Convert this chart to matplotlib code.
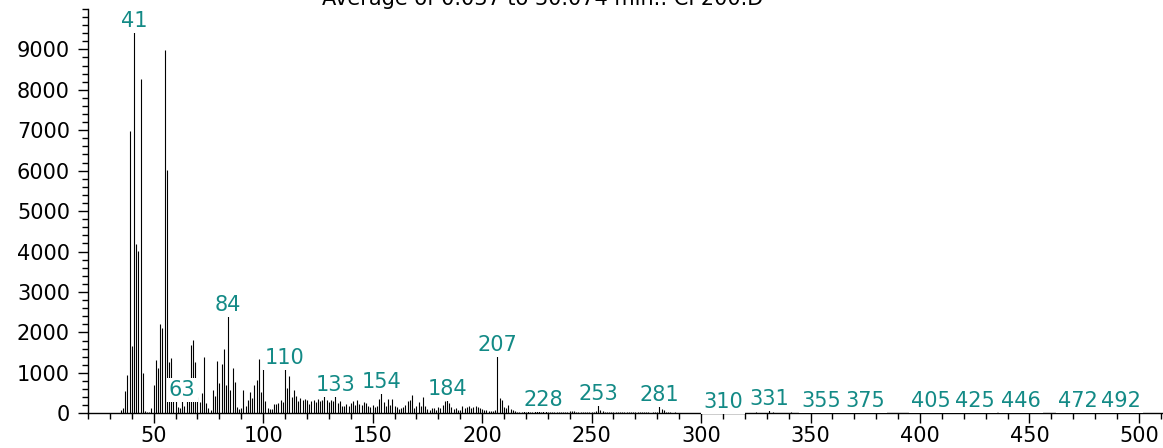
import matplotlib
matplotlib.use("Agg")
import matplotlib.pyplot as plt
from matplotlib.ticker import MultipleLocator

plt.rcParams['font.family'] = ['DejaVu Sans']

title = "Average of 0.037 to 30.074 min.: CP200.D"

# m/z 35..217, one value per mass
mz_low = list(range(35, 218))
int_low = [80, 120, 560, 940, 6980, 1660, 9420, 4190, 4020, 8275,
           990, 60, 40, 30, 120, 700, 1320, 1110, 2210, 2110,
           8980, 6020, 1260, 1360, 320, 300, 150, 120, 300, 180,
           450, 350, 1690, 1810, 1280, 400, 280, 500, 1400, 250,
           120, 80, 580, 420, 1300, 740, 1220, 1580, 700, 2410,
           580, 1110, 780, 150, 100, 120, 575, 180, 320, 535,
           380, 700, 825, 1335, 520, 1088, 300, 120, 100, 110,
           230, 220, 260, 330, 280, 1088, 625, 922, 400, 575,
           430, 300, 380, 330, 350, 340, 240, 310, 330, 270,
           360, 300, 320, 430, 330, 290, 330, 300, 430, 260,
           300, 190, 170, 230, 170, 250, 300, 210, 330, 240,
           200, 280, 250, 180, 150, 200, 160, 180, 350, 495,
           280, 190, 350, 210, 350, 170, 160, 100, 120, 150,
           200, 310, 330, 445, 130, 190, 280, 170, 400, 170,
           100, 90, 120, 130, 90, 150, 130, 200, 300, 320,
           250, 150, 100, 120, 80, 90, 190, 120, 150, 170,
           130, 160, 190, 160, 120, 100, 90, 70, 60, 60,
           50, 80, 1417, 385, 330, 160, 130, 205, 100, 70,
           50, 40, 40]

# m/z 218..300
mz_mid = list(range(218, 301))
int_mid = [40, 45, 35, 50, 30, 40, 55, 45, 60, 40,
           50, 45, 35, 40, 30, 35, 30, 25, 30, 40,
           30, 35, 45, 55, 50, 30, 25, 30, 25, 20,
           25, 30, 35, 40, 50, 205, 80, 65, 40, 35,
           30, 25, 30, 25, 20, 25, 30, 25, 40, 35,
           25, 30, 25, 20, 25, 20, 30, 25, 20, 15,
           20, 25, 40, 180, 110, 70, 40, 25, 20, 15,
           20, 15, 10, 15, 10, 15, 12, 10, 12, 8,
           10, 8, 10]

# sparse tail above 300
mz_tail = [303, 307, 310, 315, 318, 322, 325, 327, 331, 333, 336, 340, 341,
           345, 349, 352, 355, 357, 360, 365, 369, 373, 375, 379, 383, 387,
           391, 395, 399, 403, 405, 409, 414, 418, 422, 425, 429, 433, 437,
           441, 446, 450, 455, 459, 463, 467, 472, 476, 480, 484, 488, 492,
           496, 500]
int_tail = [10, 12, 12, 15, 10, 12, 20, 15, 80, 20, 12, 15, 25,
            12, 10, 15, 30, 18, 10, 12, 10, 12, 20, 10, 8, 12,
            10, 8, 10, 12, 25, 10, 8, 10, 8, 20, 10, 8, 10,
            8, 20, 8, 10, 8, 10, 8, 20, 8, 10, 8, 10, 18,
            8, 10]

labels = [41, 63, 84, 110, 133, 154, 184, 207, 228, 253, 281,
          310, 331, 355, 375, 405, 425, 446, 472, 492]

yticks = [0, 1000, 2000, 3000, 4000, 5000, 6000, 7000, 8000, 9000]

mz = mz_low + mz_mid + mz_tail
inten = int_low + int_mid + int_tail
lookup = dict(zip(mz, inten))

fig = plt.figure(figsize=(11.63, 4.48), dpi=100)
ax = fig.add_axes([88/1163, 34.7/448, 1 - 88/1163, 404.4/448])

ax.vlines(mz, 0, inten, colors='black', linewidth=0.8)

for m in labels:
    ax.text(m, lookup[m] + 130, str(m), ha='center', va='baseline',
            fontsize=15, color='#138a86', zorder=5, clip_on=False,
            bbox=dict(boxstyle='square,pad=0.1', fc='white', ec='none'))

ax.set_xlim(20, 511)
ax.set_ylim(0, 10000)
ax.set_yticks(yticks)
ax.xaxis.set_major_locator(MultipleLocator(50))
ax.xaxis.set_minor_locator(MultipleLocator(10))
ax.yaxis.set_minor_locator(MultipleLocator(200))

for s in ['top', 'right']:
    ax.spines[s].set_visible(False)
for s in ['left', 'bottom']:
    ax.spines[s].set_linewidth(1)

ax.tick_params(which='major', length=7, width=1, labelsize=15)
ax.tick_params(axis='y', which='major', pad=6)
ax.tick_params(axis='x', which='major', pad=2.5)
ax.tick_params(which='minor', length=4, width=1)

fig.text(0.467, 0.988, title, ha='center', va='baseline', fontsize=15)

fig.savefig("out.png", dpi=100)
